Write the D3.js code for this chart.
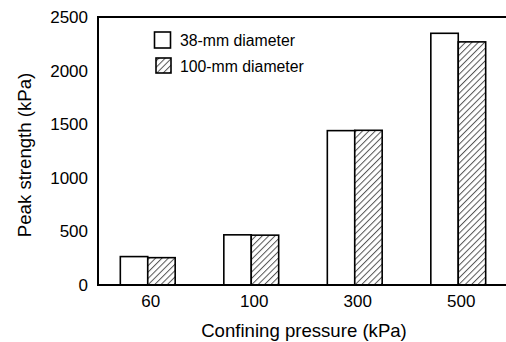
<!DOCTYPE html>
<html><head><meta charset="utf-8">
<script src="https://cdn.jsdelivr.net/npm/d3@7"></script>
<style>body{margin:0;background:#fff}svg{display:block}text{font-family:"Liberation Sans",Arial,sans-serif;fill:#000}</style>
</head><body><svg id="c" width="506" height="342"></svg>
<script>
const categories = ["60", "100", "300", "500"];
const series = ["38-mm diameter", "100-mm diameter"];
const values38 = [265, 468, 1440, 2348];
const values100 = [255, 465, 1443, 2268];
const yTicks = [0, 500, 1000, 1500, 2000, 2500];

const svg = d3.select("#c");
const defs = svg.append("defs");
const pat = defs.append("pattern").attr("id","hatch").attr("patternUnits","userSpaceOnUse")
  .attr("width",4.5).attr("height",4.5).attr("patternTransform","rotate(45)");
pat.append("rect").attr("width",4.5).attr("height",4.5).attr("fill","#fff");
pat.append("line").attr("x1",0).attr("y1",0).attr("x2",0).attr("y2",4.5).attr("stroke","#555").attr("stroke-width",2);

const pLeft = 98, pTop = 17, pBottom = 285, pRight = 506;
const y = d3.scaleLinear().domain([0,2500]).range([pBottom, pTop]);
const x = d3.scaleBand().domain(categories).range([96, 510]).paddingInner(0.47).paddingOuter(0.235);
const xs = d3.scaleBand().domain(series).range([0, x.bandwidth()]);

const data = categories.map((c,i)=>({c, v:[values38[i], values100[i]]}));
const g = svg.append("g");
g.selectAll("g.grp").data(data).join("g").attr("transform", d=>`translate(${x(d.c)},0)`)
  .selectAll("rect").data(d=>d.v.map((v,j)=>({v, s:series[j], j}))).join("rect")
  .attr("x", d=>xs(d.s)).attr("width", xs.bandwidth())
  .attr("y", d=>y(d.v)).attr("height", d=>pBottom - y(d.v))
  .attr("fill", d=>d.j===0?"#fff":"url(#hatch)")
  .attr("stroke","#000").attr("stroke-width",1.6);

// frame
svg.append("line").attr("x1",pLeft).attr("x2",pRight).attr("y1",pTop).attr("y2",pTop).attr("stroke","#000").attr("stroke-width",2);
svg.append("line").attr("x1",pLeft).attr("x2",pRight).attr("y1",pBottom).attr("y2",pBottom).attr("stroke","#000").attr("stroke-width",2.2);
svg.append("line").attr("x1",pLeft).attr("x2",pLeft).attr("y1",pTop-1).attr("y2",pBottom+1).attr("stroke","#000").attr("stroke-width",2);

// y axis labels
const ya = svg.append("g").attr("transform",`translate(${pLeft},0)`)
  .call(d3.axisLeft(y).tickValues(yTicks).tickSize(0).tickPadding(10).tickFormat(d3.format("d")));
ya.select(".domain").remove();
ya.selectAll("text").attr("font-size",17).style("font-family","Liberation Sans, Arial, sans-serif");

const xa = svg.append("g").attr("transform",`translate(3,${pBottom})`)
  .call(d3.axisBottom(x).tickSize(0).tickPadding(10));
xa.select(".domain").remove();
xa.selectAll("text").attr("font-size",17).style("font-family","Liberation Sans, Arial, sans-serif");

svg.append("text").attr("x",304).attr("y",337).attr("text-anchor","middle").attr("font-size",18.6).text("Confining pressure (kPa)");
svg.append("text").attr("transform","translate(31,155) rotate(-90)").attr("text-anchor","middle").attr("font-size",18.6).text("Peak strength (kPa)");

// legend
const lg = svg.append("g");
const ly = d3.scalePoint().domain(series).range([40, 66]);
lg.selectAll("rect").data(series).join("rect")
  .attr("x",(d,i)=>i===0?154.5:156).attr("y",d=>ly(d)-8).attr("width",(d,i)=>i===0?16:15).attr("height",(d,i)=>i===0?16:15)
  .attr("fill",(d,i)=>i===0?"#fff":"url(#hatch)").attr("stroke","#000").attr("stroke-width",1.6);
lg.selectAll("text").data(series).join("text").attr("x",180).attr("y",d=>ly(d)+5.5).attr("font-size",15.8).text(d=>d);
</script></body></html>
